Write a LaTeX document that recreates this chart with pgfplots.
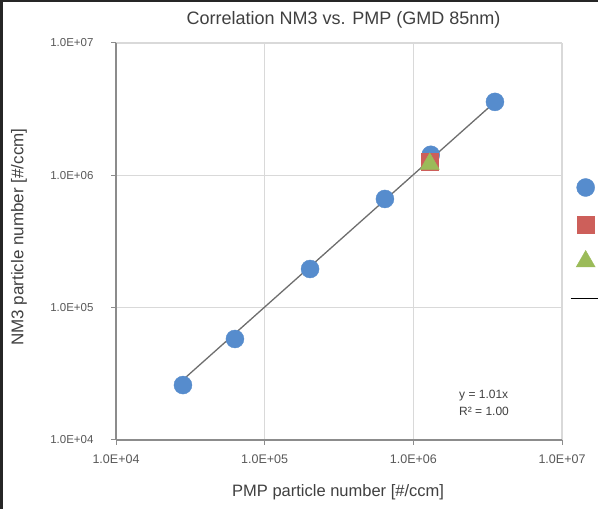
\documentclass[border=0pt]{standalone}
\usepackage{fontspec}
\setmainfont{Liberation Sans}
\usepackage{pgfplots}
\pgfplotsset{compat=1.18}

\definecolor{ptblue}{RGB}{86,140,205}
\definecolor{ptred}{RGB}{205,95,90}
\definecolor{ptgreen}{RGB}{155,187,89}
\definecolor{trendgray}{RGB}{110,110,110}
\definecolor{gridgray}{RGB}{217,217,217}
\definecolor{axisgray}{RGB}{140,140,140}
\definecolor{tickgray}{RGB}{89,89,89}
\definecolor{labelgray}{RGB}{64,64,64}

\begin{document}
\begin{tikzpicture}[x=1pt,y=1pt]
\fill[white] (0,0) rectangle (598,509);
\useasboundingbox (0,0) rectangle (598,509);
% dark frame left and top (screenshot edge)
\fill[black!85] (0,0) rectangle (3,509);
\fill[black!85] (0,506.5) rectangle (598,509);

\begin{axis}[
  at={(116pt,69pt)}, anchor=south west,
  scale only axis, width=446pt, height=397pt,
  xmode=log, ymode=log,
  xmin=1e4, xmax=1e7, ymin=1e4, ymax=1e7,
  xtick={1e4,1e5,1e6,1e7}, ytick={1e4,1e5,1e6,1e7},
  xticklabels={1.0E+04,1.0E+05,1.0E+06,1.0E+07},
  yticklabels={1.0E+04,1.0E+05,1.0E+06,1.0E+07},
  xminorticks=false, yminorticks=false,
  axis x line=bottom, axis y line=left,
  axis line style={draw=axisgray, line width=1.2pt, -},
  x axis line style={-}, y axis line style={-},
  grid=major, major grid style={gridgray, line width=1.2pt},
  tick align=outside, major tick length=5pt,
  tick style={axisgray, line width=1pt},
  xticklabel style={font=\fontsize{12.5}{15}\selectfont, text=tickgray, yshift=-6pt},
  yticklabel style={font=\fontsize{11.5}{13}\selectfont, text=tickgray, xshift=-14pt},
  title={Correlation NM3 vs. PMP (GMD 85nm)},
  title style={font=\fontsize{18}{20}\selectfont, text=labelgray,
    at={(axis description cs:0.51,1.0428)}, anchor=center},
  xlabel={PMP particle number [\#/ccm]},
  xlabel style={font=\fontsize{16.5}{20}\selectfont, text=labelgray,
    at={(axis description cs:0.498,-0.131)}, anchor=center},
  ylabel={NM3 particle number [\#/ccm]},
  ylabel style={font=\fontsize{17}{20}\selectfont, text=labelgray,
    at={(axis description cs:-0.2175,0.511)}, anchor=center},
  clip=false,
  legend image code/.code={
    \draw[mark repeat=2,mark phase=2,#1]
      plot coordinates {(0pt,0pt) (15pt,0pt) (30pt,0pt)};},
  legend style={draw=none, fill=none, inner sep=0pt, outer sep=0pt,
    at={(axis description cs:1.018,0.6826)}, anchor=north west,
    row sep=0pt, column sep=0pt,
    nodes={inner sep=0pt, text height=18.5pt, text depth=18.5pt}},
]
\addplot[only marks, mark=*, mark size=9pt, color=ptblue] coordinates {
  (2.82e4,2.60e4)
  (6.31e4,5.80e4)
  (2.02e5,1.96e5)
  (6.44e5,6.63e5)
  (1.31e6,1.43e6)
  (3.54e6,3.59e6)
};
\addlegendentry{\phantom{x}}
\addplot[only marks, mark=square*, mark size=8.5pt, color=ptred] coordinates {
  (1.29e6,1.26e6)
};
\addlegendentry{\phantom{x}}
\addplot[only marks, mark=triangle*, mark size=11pt, color=ptgreen] coordinates {
  (1.29e6,1.22e6)
};
\addlegendentry{\phantom{x}}
% linear fit y = 1.01x
\addplot[trendgray, line width=1.3pt, forget plot] coordinates {
  (2.82e4,2.85e4)
  (3.54e6,3.58e6)
};
\addlegendimage{black, line width=1.3pt}
\addlegendentry{\phantom{x}}
\end{axis}

\node[anchor=west, align=left, inner sep=0pt, text=labelgray,
  font=\fontsize{12}{17}\selectfont] at (459,106) {y = 1.01x\\R² = 1.00};
\end{tikzpicture}
\end{document}
